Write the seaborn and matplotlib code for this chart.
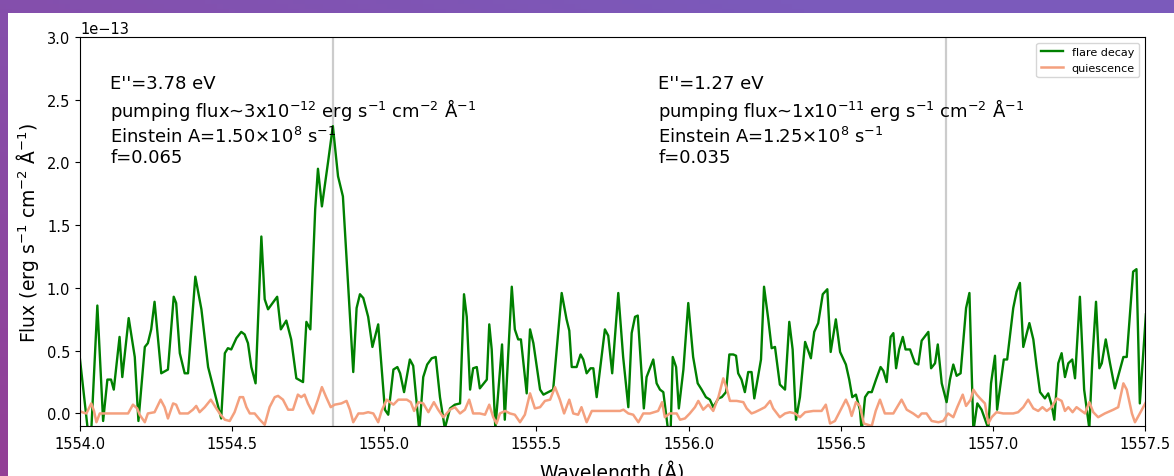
import numpy as np
import pandas as pd
import matplotlib
matplotlib.use("Agg")
import matplotlib.pyplot as plt
from matplotlib.patches import Rectangle
import seaborn as sns

# ---- data (flux in units of 1e-13 erg s^-1 cm^-2 A^-1) ----
flare_wave = [1554.000, 1554.026, 1554.037, 1554.057, 1554.076, 1554.090, 1554.102, 1554.111,
              1554.130, 1554.139, 1554.160, 1554.180, 1554.192, 1554.213, 1554.223, 1554.234,
              1554.245, 1554.267, 1554.289, 1554.308, 1554.316, 1554.328, 1554.344, 1554.355,
              1554.379, 1554.399, 1554.421, 1554.443, 1554.464, 1554.476, 1554.486, 1554.497,
              1554.514, 1554.530, 1554.541, 1554.552, 1554.563, 1554.577, 1554.596, 1554.607,
              1554.618, 1554.633, 1554.648, 1554.660, 1554.678, 1554.694, 1554.711, 1554.733,
              1554.744, 1554.757, 1554.773, 1554.782, 1554.795, 1554.815, 1554.831, 1554.848,
              1554.864, 1554.898, 1554.909, 1554.920, 1554.931, 1554.947, 1554.961, 1554.980,
              1555.002, 1555.013, 1555.030, 1555.043, 1555.052, 1555.065, 1555.084, 1555.095,
              1555.115, 1555.128, 1555.141, 1555.156, 1555.169, 1555.183, 1555.199, 1555.216,
              1555.232, 1555.249, 1555.262, 1555.271, 1555.282, 1555.292, 1555.304, 1555.314,
              1555.337, 1555.345, 1555.353, 1555.365, 1555.387, 1555.396, 1555.419, 1555.429,
              1555.440, 1555.449, 1555.468, 1555.479, 1555.490, 1555.512, 1555.523, 1555.539,
              1555.555, 1555.583, 1555.599, 1555.608, 1555.616, 1555.632, 1555.645, 1555.654,
              1555.665, 1555.678, 1555.687, 1555.698, 1555.725, 1555.736, 1555.749, 1555.769,
              1555.785, 1555.802, 1555.813, 1555.824, 1555.833, 1555.853, 1555.862, 1555.884,
              1555.895, 1555.906, 1555.917, 1555.933, 1555.941, 1555.948, 1555.959, 1555.968,
              1555.983, 1555.999, 1556.015, 1556.030, 1556.043, 1556.057, 1556.070, 1556.081,
              1556.098, 1556.109, 1556.123, 1556.134, 1556.147, 1556.156, 1556.163, 1556.174,
              1556.185, 1556.196, 1556.207, 1556.216, 1556.238, 1556.248, 1556.262, 1556.273,
              1556.284, 1556.300, 1556.317, 1556.331, 1556.342, 1556.353, 1556.366, 1556.383,
              1556.402, 1556.413, 1556.426, 1556.441, 1556.456, 1556.467, 1556.484, 1556.498,
              1556.517, 1556.528, 1556.538, 1556.550, 1556.563, 1556.569, 1556.580, 1556.591,
              1556.602, 1556.616, 1556.631, 1556.640, 1556.651, 1556.664, 1556.673, 1556.682,
              1556.692, 1556.704, 1556.713, 1556.728, 1556.744, 1556.755, 1556.766, 1556.788,
              1556.797, 1556.810, 1556.819, 1556.832, 1556.848, 1556.859, 1556.870, 1556.881,
              1556.894, 1556.912, 1556.923, 1556.936, 1556.949, 1556.963, 1556.985, 1556.994,
              1557.007, 1557.014, 1557.036, 1557.047, 1557.067, 1557.078, 1557.089, 1557.100,
              1557.120, 1557.133, 1557.144, 1557.155, 1557.171, 1557.182, 1557.193, 1557.202,
              1557.215, 1557.226, 1557.237, 1557.248, 1557.261, 1557.270, 1557.286, 1557.300,
              1557.317, 1557.327, 1557.339, 1557.350, 1557.358, 1557.371, 1557.385, 1557.401,
              1557.418, 1557.429, 1557.440, 1557.448, 1557.461, 1557.472, 1557.483, 1557.503]
flare_flux = [0.43, -0.14, -0.14, 0.86, -0.06, 0.27, 0.27, 0.19,
              0.61, 0.29, 0.76, 0.45, -0.06, 0.53, 0.56, 0.67,
              0.89, 0.32, 0.35, 0.93, 0.88, 0.48, 0.32, 0.32,
              1.09, 0.83, 0.37, 0.16, -0.04, 0.48, 0.52, 0.51,
              0.60, 0.65, 0.63, 0.56, 0.37, 0.24, 1.41, 0.91,
              0.83, 0.88, 0.93, 0.67, 0.74, 0.59, 0.28, 0.25,
              0.73, 0.67, 1.63, 1.95, 1.65, 2.00, 2.29, 1.89,
              1.73, 0.33, 0.84, 0.95, 0.92, 0.77, 0.53, 0.71,
              0.03, -0.01, 0.35, 0.37, 0.32, 0.17, 0.43, 0.38,
              -0.14, 0.29, 0.39, 0.44, 0.45, 0.13, -0.12, 0.04,
              0.07, 0.08, 0.95, 0.77, 0.19, 0.36, 0.37, 0.20,
              0.27, 0.71, 0.51, -0.12, 0.55, -0.05, 1.01, 0.67,
              0.59, 0.59, 0.16, 0.67, 0.56, 0.19, 0.15, 0.17,
              0.19, 0.96, 0.75, 0.66, 0.37, 0.37, 0.47, 0.43,
              0.32, 0.36, 0.36, 0.13, 0.67, 0.62, 0.32, 0.96,
              0.45, 0.05, 0.64, 0.77, 0.78, 0.04, 0.29, 0.43,
              0.24, 0.19, 0.17, -0.14, -0.14, 0.45, 0.37, 0.04,
              0.35, 0.88, 0.45, 0.24, 0.19, 0.13, 0.11, 0.05,
              0.12, 0.13, 0.17, 0.47, 0.47, 0.46, 0.32, 0.27,
              0.17, 0.33, 0.33, 0.12, 0.43, 1.01, 0.75, 0.52,
              0.53, 0.23, 0.19, 0.73, 0.51, -0.05, 0.13, 0.57,
              0.44, 0.65, 0.72, 0.95, 0.99, 0.49, 0.75, 0.49,
              0.39, 0.27, 0.13, 0.15, 0.03, -0.14, 0.13, 0.17,
              0.17, 0.27, 0.37, 0.34, 0.25, 0.61, 0.64, 0.36,
              0.51, 0.61, 0.51, 0.51, 0.40, 0.39, 0.58, 0.65,
              0.36, 0.40, 0.55, 0.24, 0.09, 0.27, 0.39, 0.30,
              0.32, 0.84, 0.96, -0.14, 0.08, 0.03, -0.12, 0.24,
              0.46, 0.03, 0.43, 0.43, 0.84, 0.97, 1.04, 0.53,
              0.72, 0.59, 0.37, 0.17, 0.12, 0.16, 0.07, -0.05,
              0.40, 0.48, 0.29, 0.40, 0.43, 0.28, 0.93, 0.19,
              -0.12, 0.43, 0.89, 0.36, 0.40, 0.59, 0.40, 0.20,
              0.35, 0.45, 0.45, 0.71, 1.13, 1.15, 0.08, 0.79]

quiet_wave = [1554.000, 1554.007, 1554.021, 1554.037, 1554.046, 1554.054, 1554.065, 1554.158,
              1554.174, 1554.188, 1554.196, 1554.213, 1554.223, 1554.245, 1554.265, 1554.278,
              1554.289, 1554.306, 1554.316, 1554.328, 1554.355, 1554.371, 1554.382, 1554.393,
              1554.410, 1554.430, 1554.448, 1554.462, 1554.476, 1554.492, 1554.508, 1554.525,
              1554.536, 1554.547, 1554.558, 1554.574, 1554.591, 1554.607, 1554.623, 1554.640,
              1554.651, 1554.667, 1554.684, 1554.700, 1554.716, 1554.727, 1554.738, 1554.749,
              1554.766, 1554.782, 1554.795, 1554.809, 1554.824, 1554.837, 1554.859, 1554.876,
              1554.887, 1554.898, 1554.915, 1554.931, 1554.947, 1554.964, 1554.980, 1554.991,
              1555.008, 1555.030, 1555.046, 1555.074, 1555.087, 1555.098, 1555.112, 1555.128,
              1555.145, 1555.163, 1555.177, 1555.194, 1555.216, 1555.232, 1555.249, 1555.265,
              1555.279, 1555.292, 1555.314, 1555.331, 1555.345, 1555.358, 1555.369, 1555.380,
              1555.397, 1555.413, 1555.429, 1555.446, 1555.462, 1555.479, 1555.495, 1555.512,
              1555.528, 1555.545, 1555.561, 1555.577, 1555.591, 1555.608, 1555.621, 1555.637,
              1555.648, 1555.665, 1555.682, 1555.709, 1555.742, 1555.775, 1555.786, 1555.802,
              1555.818, 1555.835, 1555.851, 1555.873, 1555.900, 1555.913, 1555.922, 1555.938,
              1555.961, 1555.972, 1555.988, 1556.004, 1556.021, 1556.032, 1556.048, 1556.065,
              1556.081, 1556.098, 1556.114, 1556.125, 1556.136, 1556.158, 1556.180, 1556.191,
              1556.207, 1556.218, 1556.235, 1556.251, 1556.268, 1556.278, 1556.300, 1556.317,
              1556.333, 1556.350, 1556.366, 1556.383, 1556.410, 1556.437, 1556.451, 1556.465,
              1556.481, 1556.498, 1556.517, 1556.528, 1556.536, 1556.550, 1556.563, 1556.576,
              1556.602, 1556.615, 1556.629, 1556.645, 1556.673, 1556.700, 1556.717, 1556.738,
              1556.755, 1556.766, 1556.782, 1556.799, 1556.821, 1556.837, 1556.853, 1556.870,
              1556.883, 1556.901, 1556.912, 1556.927, 1556.936, 1556.947, 1556.958, 1556.974,
              1556.985, 1556.996, 1557.012, 1557.034, 1557.067, 1557.083, 1557.100, 1557.116,
              1557.133, 1557.149, 1557.163, 1557.177, 1557.193, 1557.210, 1557.226, 1557.237,
              1557.248, 1557.262, 1557.275, 1557.286, 1557.303, 1557.317, 1557.330, 1557.346,
              1557.368, 1557.396, 1557.412, 1557.429, 1557.440, 1557.457, 1557.467, 1557.483,
              1557.503]
quiet_flux = [0.02, 0.01, 0.00, 0.08, 0.02, -0.07, 0.00, 0.00,
              0.07, 0.04, -0.01, -0.07, 0.00, 0.01, 0.11, 0.05,
              -0.04, 0.08, 0.07, 0.00, 0.00, 0.03, 0.06, 0.01,
              0.05, 0.11, 0.04, -0.01, -0.05, -0.06, 0.01, 0.13,
              0.13, 0.05, 0.00, 0.00, -0.05, -0.09, 0.05, 0.13,
              0.14, 0.11, 0.03, 0.03, 0.15, 0.13, 0.15, 0.08,
              0.00, 0.11, 0.21, 0.13, 0.05, 0.07, 0.08, 0.10,
              0.03, -0.07, 0.00, 0.00, 0.01, 0.00, -0.07, 0.02,
              0.11, 0.07, 0.11, 0.11, 0.09, 0.02, 0.09, 0.08,
              0.01, 0.09, 0.03, -0.03, 0.03, 0.05, 0.00, 0.03,
              0.11, 0.00, 0.00, -0.01, 0.07, -0.03, -0.08, 0.00,
              0.02, 0.00, -0.01, -0.07, -0.01, 0.16, 0.04, 0.05,
              0.10, 0.11, 0.21, 0.11, 0.00, 0.11, 0.00, -0.01,
              0.05, -0.07, 0.02, 0.02, 0.02, 0.02, 0.03, 0.00,
              -0.01, -0.07, 0.00, 0.00, 0.02, 0.09, -0.03, 0.00,
              0.00, -0.05, -0.04, 0.00, 0.05, 0.10, 0.03, 0.07,
              0.02, 0.13, 0.28, 0.20, 0.10, 0.10, 0.09, 0.04,
              0.00, 0.01, 0.03, 0.05, 0.10, 0.04, -0.03, 0.00,
              0.01, 0.00, -0.03, 0.01, 0.02, 0.02, 0.07, -0.08,
              -0.06, 0.02, 0.11, 0.05, -0.02, 0.09, 0.06, -0.08,
              -0.10, 0.02, 0.11, 0.00, 0.00, 0.11, 0.03, 0.00,
              -0.03, 0.00, 0.00, -0.06, -0.07, -0.06, 0.00, -0.03,
              0.05, 0.15, 0.06, 0.11, 0.19, 0.15, 0.12, 0.08,
              -0.08, -0.03, 0.01, 0.00, 0.00, 0.01, 0.05, 0.11,
              0.04, 0.02, 0.05, 0.02, 0.05, 0.12, 0.10, 0.02,
              0.05, 0.01, 0.05, 0.03, 0.00, 0.09, 0.01, -0.03,
              0.00, 0.03, 0.05, 0.24, 0.19, 0.00, -0.07, 0.00,
              0.09]

line_centres = [1554.831, 1556.846]
series_labels = ["flare decay", "quiescence"]
flux_scale = 1e-13

ann_left = ("E''=3.78 eV\n"
            "pumping flux~3x10$^{-12}$ erg s$^{-1}$ cm$^{-2}$ Å$^{-1}$\n"
            "Einstein A=1.50×10$^{8}$ s$^{-1}$\n"
            "f=0.065")
ann_right = ("E''=1.27 eV\n"
             "pumping flux~1x10$^{-11}$ erg s$^{-1}$ cm$^{-2}$ Å$^{-1}$\n"
             "Einstein A=1.25×10$^{8}$ s$^{-1}$\n"
             "f=0.035")

# ---- figure ----
W, H = 1174, 477
fig = plt.figure(figsize=(W / 100, H / 100), dpi=100)

# purple gradient frame (screenshot background)
bg = fig.add_axes([0, 0, 1, 1], zorder=-10)
gy, gx = np.mgrid[0:1:100j, 0:1:200j]
t = np.clip(0.6 * gx + 0.6 * gy, 0, 1)
c0 = np.array([0x93, 0x3f, 0x96]) / 255.0
c1 = np.array([0x7b, 0x5a, 0xbb]) / 255.0
img = c0[None, None, :] * (1 - t[..., None]) + c1[None, None, :] * t[..., None]
bg.imshow(img, extent=[0, 1, 0, 1], aspect="auto", origin="lower")
bg.set_axis_off()
fig.add_artist(Rectangle((8 / W, 0), 1 - 8 / W, 1 - 14 / H, transform=fig.transFigure,
                         facecolor="white", edgecolor="none", zorder=-5))

ax = fig.add_axes([80 / W, (H - 427) / H, (1145 - 80) / W, (427 - 38) / H])

df_flare = pd.DataFrame({"wave": flare_wave, "flux": np.array(flare_flux) * flux_scale})
df_quiet = pd.DataFrame({"wave": quiet_wave, "flux": np.array(quiet_flux) * flux_scale})

sns.lineplot(data=df_flare, x="wave", y="flux", ax=ax, color="green", lw=1.7,
             estimator=None, sort=False, label=series_labels[0])
sns.lineplot(data=df_quiet, x="wave", y="flux", ax=ax, color="#f4a07e", lw=1.8,
             estimator=None, sort=False, label=series_labels[1])

for lc in line_centres:
    ax.axvline(lc, color="#cccccc", lw=1.6, zorder=0)

ax.set_xlim(1554.0, 1557.5)
ax.set_ylim(-0.1e-13, 3.0e-13)
ax.set_xticks([1554.0, 1554.5, 1555.0, 1555.5, 1556.0, 1556.5, 1557.0, 1557.5])
ax.tick_params(labelsize=10.5)
ax.yaxis.get_offset_text().set_fontsize(10.5)
ax.set_xlabel("Wavelength (Å)", fontsize=13.5, labelpad=6)
ax.set_ylabel("Flux (erg s$^{-1}$ cm$^{-2}$ Å$^{-1}$)", fontsize=13.5)

ax.text(1554.1, 2.0e-13, ann_left, fontsize=13, va="baseline", ha="left", linespacing=1.2)
ax.text(1555.9, 2.0e-13, ann_right, fontsize=13, va="baseline", ha="left", linespacing=1.2)

ax.legend(loc="upper right", fontsize=8)

fig.savefig("out.png", dpi=100)
